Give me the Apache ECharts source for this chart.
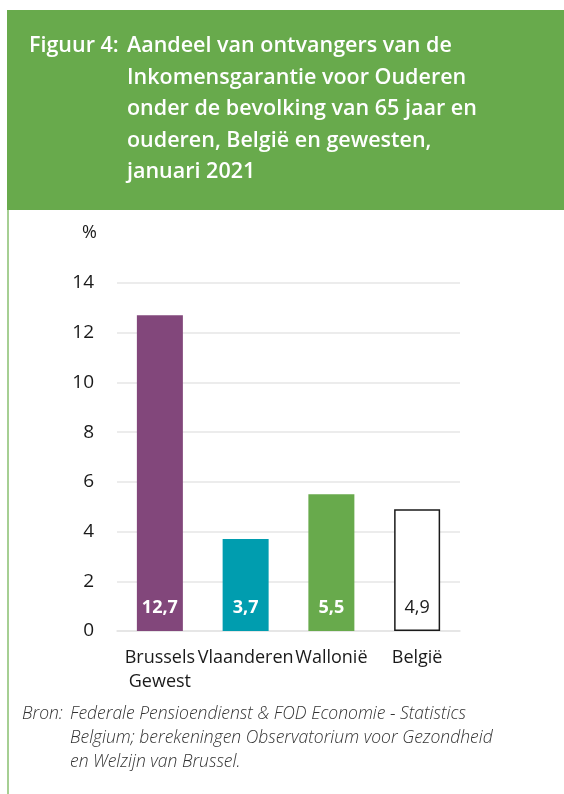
<!DOCTYPE html>
<html>
<head>
<meta charset="utf-8">
<script src="https://cdn.jsdelivr.net/npm/echarts@6/dist/echarts.min.js"></script>
<style>
  html, body { margin: 0; padding: 0; background: #fff; }
  #chart { width: 564px; height: 794px; }
</style>
</head>
<body>
<div id="chart"></div>
<script>
// data
const categories = ['Brussels\nGewest', 'Vlaanderen', 'Wallonië', 'België']
const values = [12.7, 3.7, 5.5, 4.9]
const barColors = ['#82477b', '#009daf', '#68aa4c', '#ffffff']
const labelColors = ['#ffffff', '#ffffff', '#ffffff', '#1a1a1a']
const yTicks = [0, 2, 4, 6, 8, 10, 12, 14]

const titleLines = [
  'Aandeel van ontvangers van de',
  'Inkomensgarantie voor Ouderen',
  'onder de bevolking van 65 jaar en',
  'ouderen, België en gewesten,',
  'januari 2021'
]
const sourceLines = [
  'Federale Pensioendienst & FOD Economie - Statistics',
  'Belgium; berekeningen Observatorium voor Gezondheid',
  'en Welzijn van Brussel.'
]

const FONT = '"Open Sans", "Noto Sans", sans-serif'
const chart = echarts.init(document.getElementById('chart'))

const graphics = [
  // header box + left border
  { type: 'rect', shape: { x: 7, y: 10, width: 557, height: 200 }, style: { fill: '#68aa4c' } },
  { type: 'rect', shape: { x: 7, y: 210, width: 2, height: 584 }, style: { fill: '#a6cf93' } },
  { type: 'text', left: 29, top: 35, style: { text: 'Figuur 4:', fill: '#fff', font: '600 21.5px ' + FONT } }
]
titleLines.forEach((t, i) => {
  graphics.push({ type: 'text', left: 127, top: 35 + i * 31.5, style: { text: t, fill: '#fff', font: '600 21.5px ' + FONT } })
})
graphics.push({ type: 'text', left: 82, top: 224, style: { text: '%', fill: '#1a1a1a', font: '18px ' + FONT } })
graphics.push({ type: 'text', left: 22, top: 705, style: { text: 'Bron:', fill: '#333', font: 'italic 300 17.5px ' + FONT } })
sourceLines.forEach((t, i) => {
  graphics.push({ type: 'text', left: 70, top: 705 + i * 24, style: { text: t, fill: '#333', font: 'italic 300 17.5px ' + FONT } })
})

const option = {
  animation: false,
  textStyle: { fontFamily: FONT },
  grid: { left: 117, right: 104, top: 283, bottom: 163 },
  xAxis: {
    type: 'category',
    data: categories,
    axisLine: { show: true, lineStyle: { color: '#e3e3e3', width: 1.5 } },
    axisTick: { show: false },
    axisLabel: { interval: 0, color: '#1a1a1a', fontSize: 18, lineHeight: 24, margin: 15 }
  },
  yAxis: {
    type: 'value',
    min: 0,
    max: 14,
    interval: 2,
    axisLine: { show: false },
    axisTick: { show: false },
    splitLine: { lineStyle: { color: '#e6e6e6', width: 1.5 } },
    axisLabel: {
      color: '#1a1a1a', fontSize: 19, margin: 23,
      formatter: v => yTicks.includes(v) ? String(v) : ''
    }
  },
  series: [{
    type: 'bar',
    barWidth: 46,
    data: values.map((v, i) => ({
      value: v,
      itemStyle: {
        color: barColors[i],
        borderColor: i === 3 ? '#1a1a1a' : barColors[i],
        borderWidth: i === 3 ? 1.5 : 0
      },
      label: { color: labelColors[i], fontWeight: i === 3 ? 'normal' : 'bold' }
    })),
    label: {
      show: true,
      position: 'insideBottom',
      distance: 14,
      fontSize: 18,
      formatter: p => String(p.value).replace('.', ',')
    }
  }],
  graphic: graphics
}

chart.setOption(option)
</script>
</body>
</html>
